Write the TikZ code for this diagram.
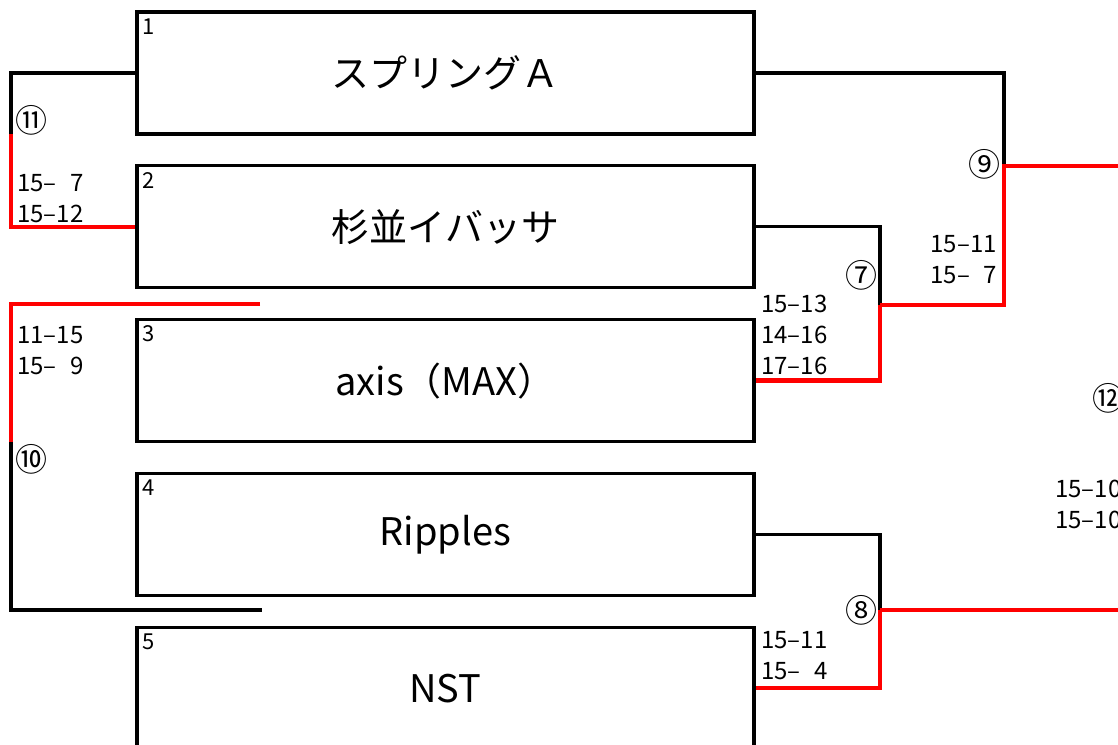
\documentclass[tikz,border=0pt]{standalone}
\usepackage{fontspec}
\setmainfont{Noto Sans CJK JP}
\usetikzlibrary{positioning}
\tikzset{
    team/.style={draw, line width=3.3pt, minimum width=617pt, minimum height=122pt, inner sep=0pt, font=\fontsize{38}{38}\selectfont},
    seed/.style={inner sep=0pt, outer sep=0pt, font=\fontsize{22}{22}\selectfont},
    lose/.style={line width=3.3pt, black},
    win/.style={line width=4.3pt, red},
    round/.style={inner sep=0pt, font=\fontsize{32}{32}\selectfont},
    score/.style={inner sep=0pt, align=left, font=\fontsize{24}{31}\selectfont}
}

\begin{document}
\begin{tikzpicture}[x=1pt, y=-1pt, node distance=28.5pt]
    \useasboundingbox (0,0) rectangle (1118,744);
    \node[team] (spring) at (445.5,73) {スプリングＡ};
    \node[team, below=of spring] (suginami) {杉並イバッサ};
    \node[team, below=of suginami] (axis) {axis（MAX）};
    \node[team, below=of axis] (ripples) {Ripples};
    \node[team, below=of ripples] (nst) {NST};
    \foreach \t/\n in {spring/1,suginami/2,axis/3,ripples/4,nst/5}
        \node[seed, below right=8pt and 7pt of \t.north west] (n\n) {\n};

    % bracket corners
    \coordinate (j11) at (11,134);
    \coordinate (t10) at (260,304);
    \coordinate (j10) at (11,442);
    \coordinate (b10) at (262,610);
    \coordinate (j7) at (880,305);
    \coordinate (j9) at (1004,166);
    \coordinate (r9) at (1124,166);
    \coordinate (j8) at (880,610);
    \coordinate (r8) at (1124,610);

    \draw[lose] (spring.west) -| (j11);
    \draw[lose] (j10) |- (b10);
    \draw[lose] (spring.east) -| (j9);
    \draw[lose] (suginami.east) -| (j7);
    \draw[lose] (ripples.east) -| (j8);

    \draw[win] (j11) |- (suginami.west);
    \draw[win] (t10) -| (j10);
    \draw[win] (j7) |- (axis.east);
    \draw[win] (j7) -| (j9) -- (r9);
    \draw[win] (j8) |- (nst.east);
    \draw[win] (j8) -- (r8);

    \node[round] (c11) at (31,120) {⑪};
    \node[score, anchor=west] (s11) at (17,198.5) {15–\phantom{0}7\\15–12};
    \node[round] (c10) at (31,459) {⑩};
    \node[score, anchor=west] (s10) at (17,351) {11–15\\15–\phantom{0}9};
    \node[round] (c7) at (861,275) {⑦};
    \node[score, anchor=west] (s7) at (761,335) {15–13\\14–16\\17–16};
    \node[round] (c9) at (984,164) {⑨};
    \node[score, anchor=east, align=right] (s9) at (997,260) {15–11\\15–\phantom{0}7};
    \node[round] (c8) at (861,610) {⑧};
    \node[score, anchor=west] (s8) at (761,656) {15–11\\15–\phantom{0}4};
    \node[round] (c12) at (1108,398) {⑫};
    \node[score, anchor=west] (s12) at (1055,504.5) {15–10\\15–10};
\end{tikzpicture}
\end{document}
